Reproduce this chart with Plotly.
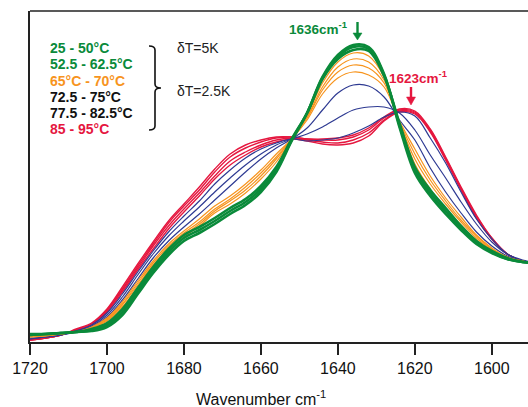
import plotly.graph_objects as go

# ---------------- data (absorbance, arbitrary units) ----------------
wavenumber = [1720, 1716, 1712, 1708, 1704, 1700, 1696, 1692, 1688, 1684, 1680, 1676,
              1672, 1668, 1664, 1660, 1656, 1652, 1648, 1644, 1640, 1636, 1632, 1628,
              1624, 1620, 1616, 1612, 1608, 1604, 1600, 1596, 1592, 1588]

green_a = [8, 8, 9, 10, 11, 15, 27, 48, 69, 87, 101, 109, 118, 128, 137, 150, 170, 201, 229, 265, 287, 297, 295, 268, 215, 169, 146, 128, 112, 98, 89, 83, 80, 79]
green_b = [7, 8, 9, 10, 12, 17, 30, 51, 72, 90, 104, 112, 121, 131, 140, 153, 172, 202, 229, 264, 285, 295, 293, 267, 217, 172, 149, 131, 114, 100, 90, 83, 80, 79]
green_c = [7, 8, 9, 10, 13, 19, 33, 54, 75, 93, 107, 115, 124, 134, 143, 156, 175, 203, 229, 263, 283, 292, 291, 266, 219, 175, 152, 134, 116, 101, 91, 84, 80, 79]

orange_a = [6, 7, 8, 10, 13, 21, 35, 55, 75, 92, 105, 116, 129, 138, 149, 163, 180, 203, 227, 259, 280, 289, 286, 265, 218, 178, 153, 134, 117, 102, 91, 84, 80, 79]
orange_b = [6, 7, 8, 10, 14, 22, 37, 57, 77, 94, 107, 118, 131, 141, 152, 166, 183, 203, 225, 255, 275, 283, 280, 262, 219, 183, 158, 138, 120, 104, 92, 84, 80, 79]
orange_c = [5, 6, 8, 10, 14, 23, 38, 59, 79, 96, 109, 120, 133, 143, 155, 169, 185, 203, 224, 252, 270, 277, 274, 259, 220, 188, 162, 141, 122, 106, 93, 85, 81, 79]
orange_d = [5, 6, 8, 10, 15, 24, 40, 61, 81, 98, 111, 123, 136, 146, 158, 172, 188, 203, 222, 248, 264, 270, 267, 255, 221, 193, 166, 144, 125, 107, 94, 85, 81, 79]

blue_a = [4, 5, 7, 10, 15, 25, 42, 63, 84, 101, 115, 128, 142, 156, 170, 183, 194, 203, 214, 232, 249, 257, 256, 245, 222, 202, 174, 150, 129, 110, 96, 86, 81, 79]
blue_b = [3, 5, 7, 11, 16, 27, 45, 67, 88, 106, 121, 135, 150, 164, 177, 188, 197, 203, 208, 215, 224, 232, 235, 235, 229, 212, 187, 164, 140, 118, 100, 88, 82, 79]
blue_c = [3, 5, 7, 11, 17, 29, 48, 70, 91, 110, 126, 141, 158, 172, 184, 193, 199, 203, 201, 202, 204, 209, 216, 225, 230, 226, 204, 179, 150, 123, 103, 88, 81, 79]

red_a = [3, 4, 7, 12, 17, 30, 50, 72, 93, 113, 130, 146, 163, 177, 187, 195, 200, 203, 201, 198, 197, 199, 206, 221, 230, 228, 210, 182, 152, 124, 103, 88, 81, 79]
red_b = [2, 4, 7, 12, 18, 31, 52, 74, 96, 116, 133, 149, 166, 181, 190, 197, 202, 204, 202, 200, 199, 202, 209, 222, 231, 229, 211, 183, 153, 125, 103, 88, 81, 79]
red_c = [2, 4, 7, 12, 18, 32, 53, 76, 98, 119, 136, 152, 170, 185, 194, 200, 204, 205, 203, 202, 202, 205, 212, 224, 232, 230, 212, 184, 154, 126, 104, 88, 81, 79]
red_d = [2, 4, 7, 13, 19, 33, 55, 78, 100, 121, 138, 155, 173, 188, 197, 202, 205, 205, 203, 203, 204, 207, 214, 225, 233, 231, 213, 185, 155, 127, 104, 88, 81, 79]

legend_lines = ["25 - 50°C", "52.5 - 62.5°C", "65°C - 70°C", "72.5 - 75°C", "77.5 - 82.5°C", "85 - 95°C"]
x_ticks = [1720, 1700, 1680, 1660, 1640, 1620, 1600]

# ---------------- styling ----------------
GREEN = "#0a8a3a"
ORANGE = "#f7941d"
NAVY = "#2e3a92"
RED = "#e5173f"
FONT = "Arial, Liberation Sans, sans-serif"

W, H = 528, 407
ML, MR, MT, MB = 30, 0, 11, 65
PW, PH = W - ML - MR, H - MT - MB


def px(x, y):
    return (x - ML) / PW, (H - MB - y) / PH


def pp(x, y):
    a, b = px(x, y)
    return "%.5f,%.5f" % (a, b)


fig = go.Figure()

groups = [
    ([red_a, red_b, red_c, red_d], RED, 1.4),
    ([blue_c, blue_b, blue_a], NAVY, 1.2),
    ([orange_d, orange_c, orange_b, orange_a], ORANGE, 1.2),
    ([green_c, green_b, green_a], GREEN, 2.6),
]
for curves, color, width in groups:
    for yv in curves:
        fig.add_trace(go.Scatter(x=wavenumber, y=yv, mode="lines",
                                 line=dict(color=color, width=width, shape="spline", smoothing=1.0),
                                 showlegend=False, hoverinfo="skip"))

ann = []
legend_colors = [GREEN, GREEN, ORANGE, "#111111", "#111111", RED]
legend_y = [48, 64, 81, 97, 113, 129]
for txt, c, yy in zip(legend_lines, legend_colors, legend_y):
    xp, yp = px(48, yy)
    ann.append(dict(x=xp, y=yp, xref="paper", yref="paper", text="<b>%s</b>" % txt,
                    showarrow=False, xanchor="left", yanchor="middle",
                    font=dict(family=FONT, size=14, color=c)))

for txt, yy in [("δT=5K", 48), ("δT=2.5K", 91)]:
    xp, yp = px(175, yy)
    ann.append(dict(x=xp, y=yp, xref="paper", yref="paper", text=txt, showarrow=False,
                    xanchor="left", yanchor="middle", font=dict(family=FONT, size=14, color="#222222")))

xp, yp = px(287, 28)
ann.append(dict(x=xp, y=yp, xref="paper", yref="paper", text="<b>1636cm<sup>-1</sup></b>",
                showarrow=False, xanchor="left", yanchor="middle",
                font=dict(family=FONT, size=13.5, color=GREEN)))
xp, yp = px(387, 77)
ann.append(dict(x=xp, y=yp, xref="paper", yref="paper", text="<b>1623cm<sup>-1</sup></b>",
                showarrow=False, xanchor="left", yanchor="middle",
                font=dict(family=FONT, size=13.5, color=RED)))

xp, yp = px(261, 398)
ann.append(dict(x=xp, y=yp, xref="paper", yref="paper", text="Wavenumber cm<sup>-1</sup>",
                showarrow=False, xanchor="center", yanchor="middle",
                font=dict(family=FONT, size=16, color="#111111")))

# brace
brace = ("M %s Q %s %s L %s Q %s %s Q %s %s L %s Q %s %s" % (
    pp(149, 46), pp(155, 46), pp(155, 50), pp(155, 84), pp(155, 88), pp(161, 88),
    pp(155, 88), pp(155, 92), pp(155, 126), pp(155, 130), pp(149, 130)))

shapes = [
    dict(type="path", xref="paper", yref="paper", path=brace,
         line=dict(color="#111111", width=1.6)),
    dict(type="line", xref="paper", yref="paper", x0=0, x1=1, y0=1, y1=1,
         line=dict(color="#222222", width=1.5)),
]

# marker arrows (shaft + head)
for xc, y0, yh, ytip, col in [(357.5, 22, 33, 40, GREEN), (411, 87, 97, 105, RED)]:
    x0p, y0p = px(xc, y0)
    x1p, y1p = px(xc, yh + 1)
    shapes.append(dict(type="line", xref="paper", yref="paper", x0=x0p, x1=x1p, y0=y0p, y1=y1p,
                       line=dict(color=col, width=2.4)))
    shapes.append(dict(type="path", xref="paper", yref="paper",
                       path="M %s L %s L %s Z" % (pp(xc - 4.5, yh), pp(xc + 4.5, yh), pp(xc, ytip)),
                       fillcolor=col, line=dict(color=col, width=0.5)))

fig.update_layout(
    width=W, height=H, autosize=False,
    margin=dict(l=ML, r=MR, t=MT, b=MB, pad=0),
    plot_bgcolor="white", paper_bgcolor="white",
    annotations=ann, shapes=shapes,
    font=dict(family=FONT, color="#111111"),
    xaxis=dict(range=[1720, 1590.6], tickvals=x_ticks, ticks="outside", ticklen=11,
               tickwidth=1.5, tickcolor="#222222", showline=True, linecolor="#222222",
               linewidth=1.5, showgrid=False, zeroline=False,
               tickfont=dict(family=FONT, size=16, color="#111111")),
    yaxis=dict(range=[0, 331], showticklabels=False, ticks="", showline=True,
               linecolor="#222222", linewidth=1.5, showgrid=False, zeroline=False),
)

fig.write_html("out.html", config={"displayModeBar": False},
               post_script="document.body.style.margin='0';")
